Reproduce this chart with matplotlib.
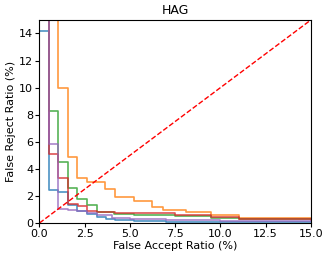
import matplotlib
matplotlib.use("Agg")
import matplotlib.pyplot as plt

# step curves: x edges (FAR %) and FRR value held until the next edge
blue_x = [0.0, 0.5, 1.05, 1.55, 2.05, 2.6, 3.2, 3.7, 4.2, 5.2, 7.0, 15.0]
blue_y = [14.15, 2.45, 2.3, 1.3, 0.85, 0.7, 0.45, 0.3, 0.2, 0.12, 0.07, 0.05]

orange_x = [0.0, 1.0, 1.55, 2.05, 2.6, 3.6, 4.15, 5.2, 6.2, 6.8, 8.1, 9.5, 11.0, 15.0]
orange_y = [20.0, 10.0, 4.85, 3.35, 3.05, 2.5, 1.95, 1.6, 1.2, 0.95, 0.8, 0.6, 0.4, 0.35]

green_x = [0.0, 0.53, 1.04, 1.56, 2.05, 2.6, 3.16, 4.1, 5.2, 7.5, 9.5, 11.0, 15.0]
green_y = [20.0, 8.3, 4.5, 2.6, 1.75, 1.33, 0.8, 0.7, 0.6, 0.5, 0.4, 0.33, 0.3]

red_x = [0.0, 0.5, 1.04, 1.56, 2.15, 2.6, 3.2, 4.2, 6.0, 7.5, 9.5, 11.0, 15.0]
red_y = [20.0, 5.1, 3.3, 1.38, 1.28, 0.85, 0.8, 0.75, 0.72, 0.6, 0.45, 0.3, 0.25]

purple_x = [0.0, 0.5, 1.04, 1.55, 2.1, 2.6, 3.2, 4.0, 5.0, 7.0, 10.0, 15.0]
purple_y = [20.0, 5.8, 1.05, 0.95, 0.85, 0.75, 0.6, 0.4, 0.3, 0.2, 0.15, 0.12]

curves = [
    (blue_x, blue_y, "tab:blue"),
    (orange_x, orange_y, "tab:orange"),
    (green_x, green_y, "tab:green"),
    (red_x, red_y, "tab:red"),
    (purple_x, purple_y, "tab:purple"),
]

fig = plt.figure(figsize=(3.29, 2.59), dpi=100)
ax = fig.add_axes([0.120, 0.139, 0.825, 0.784])

for xs, ys, color in curves:
    ax.step(xs, ys, where="post", color=color, linewidth=1.2, alpha=0.8)

ax.plot([0, 15], [0, 15], "r--", linewidth=1.0)

ax.set_xlim(0, 15)
ax.set_ylim(0, 15)
ax.set_xticks([0, 2.5, 5, 7.5, 10, 12.5, 15])
ax.set_yticks([0, 2, 4, 6, 8, 10, 12, 14])
ax.tick_params(labelsize=8, length=3, pad=1.5)
ax.set_xlabel("False Accept Ratio (%)", fontsize=8, labelpad=1)
ax.set_ylabel("False Reject Ratio (%)", fontsize=8, labelpad=2)
ax.set_title("HAG", fontsize=9, pad=4)

fig.savefig("out.png", dpi=100)
